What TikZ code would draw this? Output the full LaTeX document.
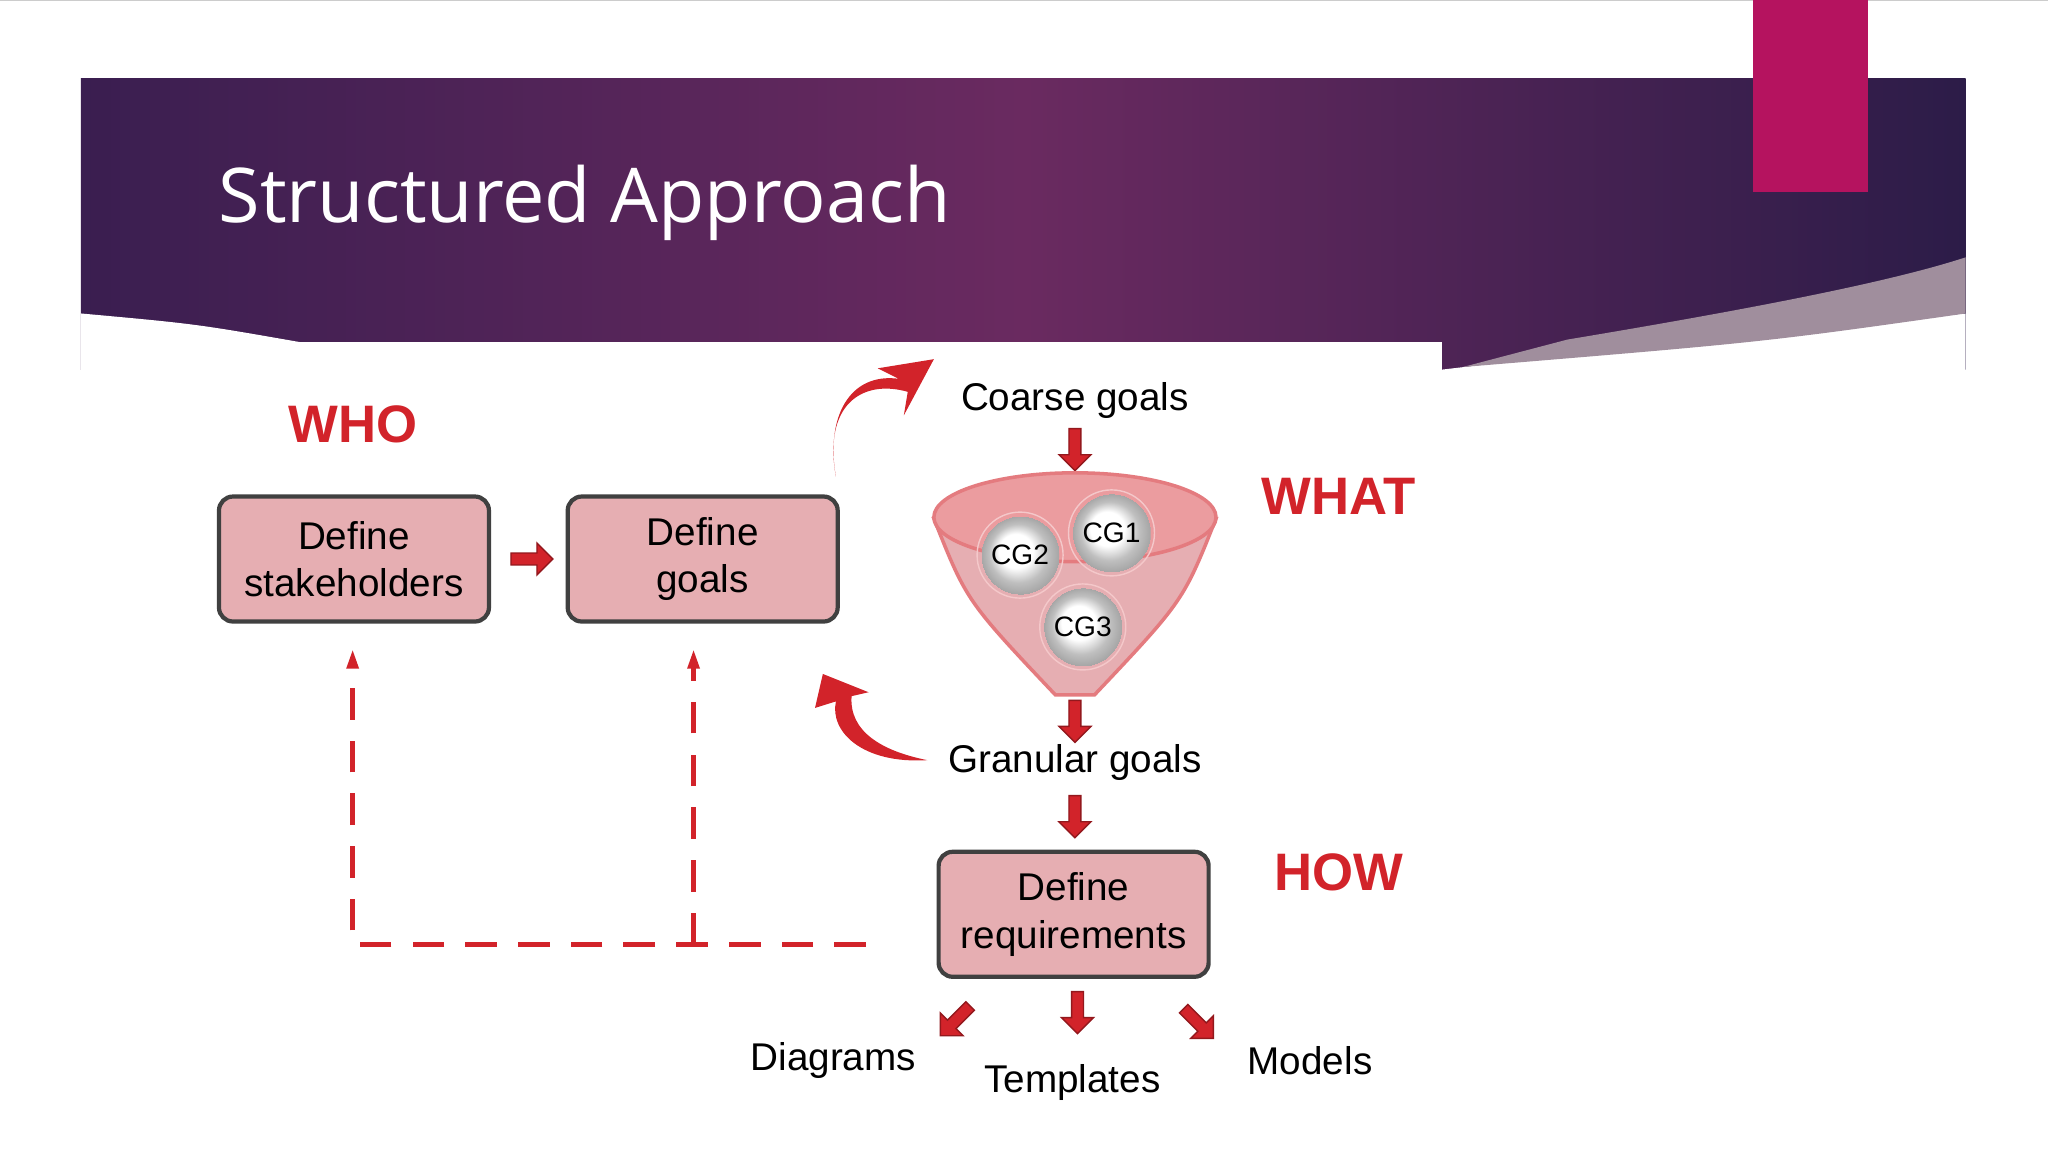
\documentclass[tikz,border=0pt]{standalone}
\usepackage{fontspec}
\setmainfont{Liberation Sans}
\newfontfamily\titlefont{Open Sans}
\usetikzlibrary{shapes.arrows,arrows.meta,shadings}
\definecolor{boxfill}{HTML}{E6AEB2}
\definecolor{rd}{HTML}{D2232A}
\definecolor{magbar}{HTML}{B5135F}
\definecolor{bnl}{HTML}{3A1E50}
\definecolor{bnm}{HTML}{6A2A60}
\definecolor{bnr}{HTML}{2C1C48}
\pgfdeclareradialshading{myball}{\pgfpoint{-0.15cm}{0.15cm}}{color(0cm)=(white);color(0.35cm)=(white);color(0.6cm)=(black!25);color(0.8cm)=(black!35)}
\begin{document}
\begin{tikzpicture}[x=0.013061cm,y=-0.013061cm,
  stepbox/.style={draw=black!75,line width=1.2pt,fill=boxfill,rounded corners=4pt,minimum width=2.7cm,minimum height=1.25cm,align=center,font=\fontsize{11}{13.5}\selectfont},
  blk/.style={single arrow,fill=rd,draw=rd!70!black,minimum height=0.42cm,single arrow head extend=0.1cm,inner sep=1.5pt,single arrow tip angle=90},
  lbl/.style={font=\fontsize{11}{13}\selectfont},
  big/.style={font=\bfseries\fontsize{15}{18}\selectfont,text=rd},
  ball/.style={circle,minimum size=0.86cm,inner sep=0pt,shading=myball,draw=rd!25,font=\fontsize{8}{10}\selectfont}]
\useasboundingbox (0,0) rectangle (1568,882);
\fill[white] (0,0) rectangle (1568,882);
\draw[gray!40] (0,0.5) -- (1568,0.5);
% banner
\shade[left color=bnl,right color=bnr,middle color=bnm] (62,60) rectangle (1505,283);
\fill[white] (62,240) .. controls (150,248) .. (230,262) -- (1104,262) -- (1104,283) .. controls (1300,260) .. (1505,240) -- (1505,300) -- (62,300) -- cycle;
\fill[white] (62,262) rectangle (1104,300);
\fill[gray!60!bnm!70] (1200,260) .. controls (1350,235) and (1450,215) .. (1505,197) -- (1505,240) .. controls (1350,262) .. (1120,281) -- cycle;
\fill[magbar] (1342,0) rectangle (1430,147);
\node[anchor=west,text=white,font=\titlefont\fontsize{21.5}{26}\selectfont] (title) at (158,155) {Structured Approach};
% left part
\node[big] (who) at (270,325) {WHO};
\node[stepbox] (b1) at (271,428) {Define\\stakeholders};
\node[stepbox] (b2) at (538,428) {Define\\goals};
\node[blk] (a1) at (405,428) {};
\node[lbl] (cg) at (823,307) {Coarse goals};
\node[blk,rotate=-90] (a2) at (823,342) {};
% funnel
\fill[boxfill,draw=rd!60,line width=1pt] (715,397) .. controls (740,460) .. (808,532) -- (838,532) .. controls (906,460) .. (931,397) -- cycle;
\fill[rd!45,draw=rd!60,line width=1pt] (823,396) ellipse [x radius=108,y radius=34];
\node[ball] (cg2) at (781,425) {CG2};
\node[ball] (cg1) at (851,408) {CG1};
\node[ball] (cg3) at (829,480) {CG3};
\node[big] (what) at (1025,380) {WHAT};
\node[blk,rotate=-90] (a3) at (823,550) {};
\node[lbl] (gg) at (823,584) {Granular goals};
\node[blk,rotate=-90] (a4) at (823,623) {};
\node[stepbox] (b3) at (822,700) {Define\\requirements};
\node[big] (how) at (1025,668) {HOW};
\node[blk,rotate=-135] (a5) at (733,780) {};
\node[blk,rotate=-90] (a6) at (825,773) {};
\node[blk,rotate=-45] (a7) at (916,782) {};
\node[lbl] (dia) at (638,812) {Diagrams};
\node[lbl] (tem) at (821,829) {Templates};
\node[lbl] (mod) at (1003,812) {Models};
% curved arrows
\fill[rd] (640,365) .. controls (630,310) and (660,290) .. (695,300) -- (692,318) -- (715,275) -- (672,282) -- (688,290) .. controls (650,285) and (632,320) .. cycle;
\fill[rd] (710,582) .. controls (660,585) and (635,560) .. (640,537) -- (624,542) -- (630,516) -- (665,530) -- (652,533) .. controls (650,560) and (675,575) .. cycle;
% dashed feedback
\coordinate (d0) at (663,723);
\coordinate (d1) at (270,723);
\coordinate (d2) at (531,723);
\draw[rd,line width=1.5pt,dash pattern=on 9pt off 6pt] (d0) -- (d1) -- (270,505);
\draw[rd,line width=1.5pt,dash pattern=on 9pt off 6pt] (d2) -- (531,505);
\fill[rd] (270,498) -- (265,512) -- (275,512) -- cycle;
\fill[rd] (531,498) -- (526,512) -- (536,512) -- cycle;
\end{tikzpicture}
\end{document}
